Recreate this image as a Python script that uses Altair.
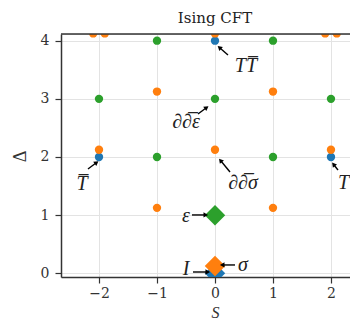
import math
import altair as alt
import pandas as pd

# ---------------- data ----------------
fam_names = ["identity", "sigma", "epsilon"]
fam_colors = ["#1f77b4", "#ff7f0e", "#2ca02c"]

circ_blue_S = [-2, 2, 0]
circ_blue_D = [2, 2, 4]
circ_orange_S = [-1, 1, 0, -2, 2, -1, 1, 0, -2.1, -1.9, 1.9, 2.1]
circ_orange_D = [1.125, 1.125, 2.125, 2.125, 2.125, 3.125, 3.125, 4.125, 4.125, 4.125, 4.125, 4.125]
circ_green_S = [-1, 1, 0, -2, 2, -1, 1]
circ_green_D = [2, 2, 3, 3, 3, 4, 4]

prim_S = [0, 0, 0]
prim_D = [0, 0.125, 1]
prim_fam = ["identity", "sigma", "epsilon"]

ann_text = ["T\u0305", "T", "\u2202\u2202\u0305\u03b5", "\u2202\u2202\u0305\u03c3", "TT\u0305", "\u03b5", "I", "\u03c3"]
ann_tx = [-2.293, 2.215, -0.50, 0.483, 0.534, -0.50, -0.50, 0.483]
ann_ty = [1.536, 1.553, 2.602, 1.553, 3.565, 0.985, 0.074, 0.143]
arr_x0 = [-2.190, 2.121, -0.293, 0.259, 0.224, -0.397, -0.379, 0.345]
arr_y0 = [1.794, 1.776, 2.740, 1.742, 3.754, 1.003, 0.022, 0.143]
arr_x1 = [-2.052, 2.052, -0.155, 0.103, 0.086, -0.172, -0.138, 0.138]
arr_y1 = [1.897, 1.862, 2.842, 1.931, 3.875, 1.003, 0.022, 0.143]

title_text = ["Ising CFT"]

x_ticks = [-2, -1, 0, 1, 2]
y_ticks = [0, 1, 2, 3, 4]
x_domain = [-2.655, 2.328]
y_domain = [-0.064, 4.115]

# ---------------- tables ----------------
circ = pd.DataFrame({
    "S": circ_blue_S + circ_orange_S + circ_green_S,
    "D": circ_blue_D + circ_orange_D + circ_green_D,
    "fam": ["identity"] * len(circ_blue_S) + ["sigma"] * len(circ_orange_S) + ["epsilon"] * len(circ_green_S),
})
prim = pd.DataFrame({"S": prim_S, "D": prim_D, "fam": prim_fam})
ann = pd.DataFrame({"S": ann_tx, "D": ann_ty, "txt": ann_text})
arr = pd.DataFrame({"S": arr_x0, "D": arr_y0, "S2": arr_x1, "D2": arr_y1})
arr["ang"] = [
    (math.degrees(math.atan2(x1 - x0, y1 - y0)) + 360) % 360
    for x0, y0, x1, y1 in zip(arr_x0, arr_y0, arr_x1, arr_y1)
]
ttl = pd.DataFrame({"S": [0.0], "txt": title_text})

FONT = "Liberation Serif"
TICKFONT = "DejaVu Serif"
W, H = 289, 243
xs = alt.Scale(domain=x_domain, nice=False, zero=False)
ys = alt.Scale(domain=y_domain, nice=False, zero=False)

common_axis = dict(
    grid=True, gridColor="#e3e3e3", gridWidth=1,
    tickSize=6, tickColor="#333333", tickWidth=1.2,
    domainColor="#333333", domainWidth=1.5,
    labelFont=TICKFONT, labelFontSize=14, labelColor="#333333",
    titleFont=FONT, titleFontWeight="normal", titleColor="#333333",
)
xaxis = alt.Axis(values=x_ticks, title="S", titleFontStyle="italic", titleFontSize=16, labelPadding=3,
                 titleX=154, titleY=35, titleBaseline="middle", titleAlign="center",
                 **common_axis)
yaxis = alt.Axis(values=y_ticks, title="\u0394", titleFontSize=18, labelPadding=6, titleAngle=270,
                 titleX=-41, titleY=122, titleBaseline="middle", titleAlign="center",
                 **common_axis)


def X(f="S"):
    return alt.X(f"{f}:Q", scale=xs, axis=xaxis)


def Y(f="D"):
    return alt.Y(f"{f}:Q", scale=ys, axis=yaxis)


color = alt.Color("fam:N", scale=alt.Scale(domain=fam_names, range=fam_colors), legend=None)

circles = alt.Chart(circ).mark_point(filled=True, shape="circle", size=70, opacity=1, clip=True).encode(
    x=X(), y=Y(), color=color
)
diamonds = alt.Chart(prim).mark_point(filled=True, shape="diamond", size=420, opacity=1, clip=True).encode(
    x=X(), y=Y(), color=color
)
lines = alt.Chart(arr).mark_rule(color="black", strokeWidth=1.4).encode(
    x=X(), y=Y(), x2="S2:Q", y2="D2:Q"
)
heads = alt.Chart(arr).mark_point(filled=True, shape="triangle", size=28, opacity=1, color="black").encode(
    x=X("S2"), y=Y("D2"), angle=alt.Angle("ang:Q", scale=None)
)
labels = alt.Chart(ann).mark_text(font=FONT, fontSize=20, fontStyle="italic", color="#222222",
                                  align="center", baseline="middle").encode(
    x=X(), y=Y(), text="txt:N"
)
title = alt.Chart(ttl).mark_text(font=TICKFONT, fontSize=15, color="#222222",
                                 align="center", baseline="alphabetic").encode(
    x=X(), y=alt.value(-11), text="txt:N"
)
topline = alt.Chart(ttl).mark_rule(color="#333333", strokeWidth=1.5).encode(
    x=alt.value(0), x2=alt.value(W), y=alt.value(0)
)

chart = alt.layer(circles, diamonds, lines, heads, labels, title, topline).properties(
    width=W, height=H,
    autosize=alt.AutoSizeParams(type="none"),
    padding={"left": 53, "top": 26, "right": 0, "bottom": 43},
).configure_view(stroke=None).configure(background="white")

chart.save("out.html", embed_options={"renderer": "svg", "actions": False})
